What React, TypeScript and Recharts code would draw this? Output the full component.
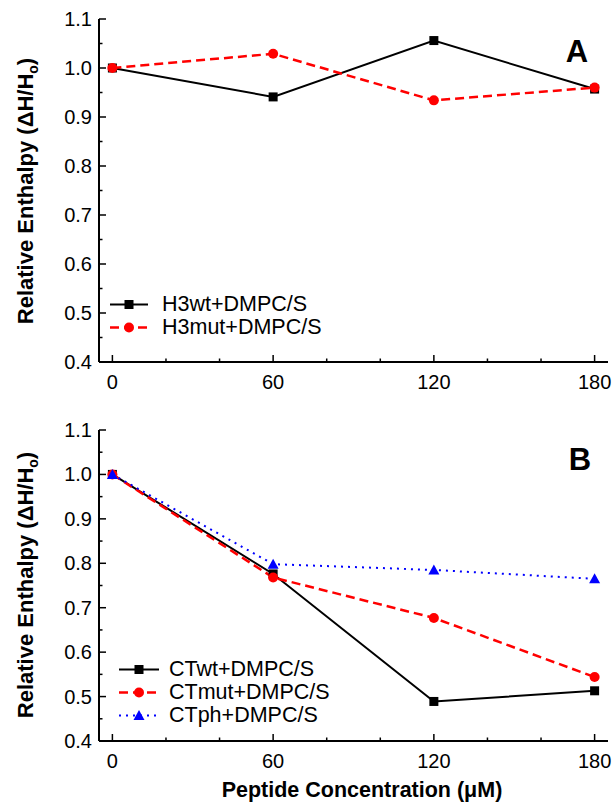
import React from 'react';
import { LineChart, Line, XAxis, YAxis, Legend, Label } from 'recharts';

const CONC = [0, 60, 120, 180];
const H3WT = [1.0, 0.941, 1.056, 0.957];
const H3MUT = [1.0, 1.029, 0.934, 0.96];
const CTWT = [1.0, 0.776, 0.489, 0.513];
const CTMUT = [1.0, 0.768, 0.677, 0.544];
const CTPH = [1.0, 0.798, 0.785, 0.765];

const X_TICKS = [0, 20, 40, 60, 80, 100, 120, 140, 160, 180];
const X_MAJOR = [0, 60, 120, 180];
const Y_TICKS = [0.4, 0.45, 0.5, 0.55, 0.6, 0.65, 0.7, 0.75, 0.8, 0.85, 0.9, 0.95, 1.0, 1.05, 1.1];

const FONT = '"Liberation Sans", Arial, Helvetica, sans-serif';
const X_DOMAIN: [number, number] = [-5, 185];
const Y_DOMAIN: [number, number] = [0.4, 1.1];

const dataA = CONC.map((c, i) => ({ c, h3wt: H3WT[i], h3mut: H3MUT[i] }));
const dataB = CONC.map((c, i) => ({ c, ctwt: CTWT[i], ctmut: CTMUT[i], ctph: CTPH[i] }));

const isMajorY = (v: number) => Math.abs(Math.round(v * 10) - v * 10) < 1e-6;
const MAJ = 7;
const MIN = 3.5;
const TICK_FS = 20;

const BottomTick = (p: any) => {
  const { x, y, payload } = p;
  const v = payload.value;
  const major = X_MAJOR.includes(v);
  return (
    <g>
      <line x1={x} x2={x} y1={y} y2={y - (major ? MAJ : MIN)} stroke="#000" strokeWidth={1.5} />
      {major && (
        <text x={x} y={y + 26.5} textAnchor="middle" fontSize={TICK_FS} fontFamily={FONT} fill="#000">
          {v}
        </text>
      )}
    </g>
  );
};
const TopTick = (p: any) => {
  const { x, y, payload } = p;
  const major = X_MAJOR.includes(payload.value);
  return <line x1={x} x2={x} y1={y} y2={y + (major ? MAJ : MIN)} stroke="#000" strokeWidth={1.5} />;
};
const LeftTick = (p: any) => {
  const { x, y, payload } = p;
  const v = payload.value;
  const major = isMajorY(v);
  return (
    <g>
      <line x1={x} x2={x + (major ? MAJ : MIN)} y1={y} y2={y} stroke="#000" strokeWidth={1.5} />
      {major && (
        <text x={x - 7} y={y + 7} textAnchor="end" fontSize={TICK_FS} fontFamily={FONT} fill="#000">
          {v.toFixed(1)}
        </text>
      )}
    </g>
  );
};
const RightTick = (p: any) => {
  const { x, y, payload } = p;
  const major = isMajorY(payload.value);
  return <line x1={x} x2={x - (major ? MAJ : MIN)} y1={y} y2={y} stroke="#000" strokeWidth={1.5} />;
};

const squareDot = (p: any) => (
  <rect key={`s${p.index}`} x={p.cx - 4.5} y={p.cy - 4.5} width={9} height={9} fill="#000" />
);
const circleDot = (p: any) => <circle key={`c${p.index}`} cx={p.cx} cy={p.cy} r={5} fill="#ff0000" />;
const triDot = (p: any) => (
  <polygon
    key={`t${p.index}`}
    points={`${p.cx},${p.cy - 5.5} ${p.cx - 5.5},${p.cy + 4.5} ${p.cx + 5.5},${p.cy + 4.5}`}
    fill="#0000ff"
  />
);

type Ser = { name: string; color: string; dash?: string; width: number; marker: 'sq' | 'ci' | 'tr' };

const legendMarker = (m: string, cx: number, cy: number, color: string) => {
  if (m === 'sq') return <rect x={cx - 4.5} y={cy - 4.5} width={9} height={9} fill={color} />;
  if (m === 'ci') return <circle cx={cx} cy={cy} r={5} fill={color} />;
  return <polygon points={`${cx},${cy - 5.5} ${cx - 5.5},${cy + 4.5} ${cx + 5.5},${cy + 4.5}`} fill={color} />;
};

const makeLegend = (series: Ser[], lineW: number, gap: number) => () => (
  <div style={{ fontFamily: FONT, fontSize: 21.5, color: '#000' }}>
    {series.map((s) => (
      <div key={s.name} style={{ display: 'flex', alignItems: 'center', height: 23 }}>
        <svg width={lineW} height={23} style={{ display: 'block' }}>
          <line x1={0} x2={lineW} y1={11.5} y2={11.5} stroke={s.color} strokeWidth={s.width} strokeDasharray={s.dash} />
          {legendMarker(s.marker, lineW / 2, 11.5, s.color)}
        </svg>
        <span style={{ marginLeft: gap, lineHeight: '23px', whiteSpace: 'nowrap' }}>{s.name}</span>
      </div>
    ))}
  </div>
);

const SER_A: Ser[] = [
  { name: 'H3wt+DMPC/S', color: '#000', width: 2, marker: 'sq' },
  { name: 'H3mut+DMPC/S', color: '#ff0000', dash: '9 5', width: 2.5, marker: 'ci' },
];
const SER_B: Ser[] = [
  { name: 'CTwt+DMPC/S', color: '#000', width: 2, marker: 'sq' },
  { name: 'CTmut+DMPC/S', color: '#ff0000', dash: '9 5', width: 2.5, marker: 'ci' },
  { name: 'CTph+DMPC/S', color: '#0000ff', dash: '2 5', width: 2, marker: 'tr' },
];

const decorations = (cy: number, t: string, tx: number, ty: number) => () => (
  <g>
    <text
      x={33}
      y={cy}
      transform={`rotate(-90, 33, ${cy})`}
      textAnchor="middle"
      fontSize={22}
      fontWeight="bold"
      fontFamily={FONT}
      fill="#000"
    >
      Relative Enthalpy (ΔH/H
      <tspan fontSize={14} dy={5}>o</tspan>
      <tspan dy={-5}>)</tspan>
    </text>
    <text x={tx} y={ty} textAnchor="middle" fontSize={31} fontWeight="bold" fontFamily={FONT} fill="#000">
      {t}
    </text>
  </g>
);

export default function App() {
  const axisCommon = {
    type: 'number' as const,
    domain: X_DOMAIN,
    ticks: X_TICKS,
    interval: 0 as const,
    allowDataOverflow: true,
    tickSize: 0,
    tickMargin: 0,
    tickLine: false,
    axisLine: { stroke: '#000', strokeWidth: 2 },
    dataKey: 'c',
  };
  const yCommon = {
    type: 'number' as const,
    domain: Y_DOMAIN,
    ticks: Y_TICKS,
    interval: 0 as const,
    allowDataOverflow: true,
    tickSize: 0,
    tickMargin: 0,
    tickLine: false,
    axisLine: { stroke: '#000', strokeWidth: 2 },
  };
  return (
    <div style={{ position: 'absolute', left: 0, top: 0, width: 615, height: 804, background: '#fff' }}>
      <div style={{ position: 'absolute', left: 0, top: 0 }}>
        <LineChart width={615} height={400} data={dataA} margin={{ top: 19, right: 7, bottom: 0, left: 0 }}>
          <XAxis xAxisId="b" orientation="bottom" height={38} {...axisCommon} tick={BottomTick} />
          <XAxis xAxisId="t" orientation="top" height={0} {...axisCommon} tick={TopTick} />
          <YAxis yAxisId="l" orientation="left" width={99} {...yCommon} tick={LeftTick}>
            <Label content={decorations(191, 'A', 577, 62)} />
          </YAxis>
          <YAxis yAxisId="r" orientation="right" width={0} {...yCommon} tick={RightTick} />
          <Line xAxisId="b" yAxisId="l" dataKey="h3wt" stroke="#000" strokeWidth={2} dot={squareDot} isAnimationActive={false} />
          <Line xAxisId="b" yAxisId="l" dataKey="h3mut" stroke="#ff0000" strokeWidth={2.5} strokeDasharray="9 5" dot={circleDot} isAnimationActive={false} />
          <Legend
            layout="vertical"
            align="center"
            verticalAlign="middle"
            content={makeLegend(SER_A, 38, 14)}
            wrapperStyle={{ position: 'absolute', left: 110, top: 292.5, width: 280, height: 46 }}
          />
        </LineChart>
      </div>
      <div style={{ position: 'absolute', left: 0, top: 400 }}>
        <LineChart width={615} height={404} data={dataB} margin={{ top: 30, right: 7, bottom: 25, left: 0 }}>
          <XAxis xAxisId="b" orientation="bottom" height={38} {...axisCommon} tick={BottomTick}>
            <Label
              content={() => (
                <text x={362} y={397} textAnchor="middle" fontSize={21.5} fontWeight="bold" fontFamily={FONT} fill="#000">
                  Peptide Concentration (μM)
                </text>
              )}
            />
          </XAxis>
          <XAxis xAxisId="t" orientation="top" height={0} {...axisCommon} tick={TopTick} />
          <YAxis yAxisId="l" orientation="left" width={99} {...yCommon} tick={LeftTick}>
            <Label content={decorations(185, 'B', 580, 70)} />
          </YAxis>
          <YAxis yAxisId="r" orientation="right" width={0} {...yCommon} tick={RightTick} />
          <Line xAxisId="b" yAxisId="l" dataKey="ctwt" stroke="#000" strokeWidth={2} dot={squareDot} isAnimationActive={false} />
          <Line xAxisId="b" yAxisId="l" dataKey="ctmut" stroke="#ff0000" strokeWidth={2.5} strokeDasharray="9 5" dot={circleDot} isAnimationActive={false} />
          <Line xAxisId="b" yAxisId="l" dataKey="ctph" stroke="#0000ff" strokeWidth={2} strokeDasharray="2 5" dot={triDot} isAnimationActive={false} />
          <Legend
            layout="vertical"
            align="center"
            verticalAlign="middle"
            content={makeLegend(SER_B, 40, 10)}
            wrapperStyle={{ position: 'absolute', left: 119, top: 257.5, width: 280, height: 69 }}
          />
        </LineChart>
      </div>
    </div>
  );
}
